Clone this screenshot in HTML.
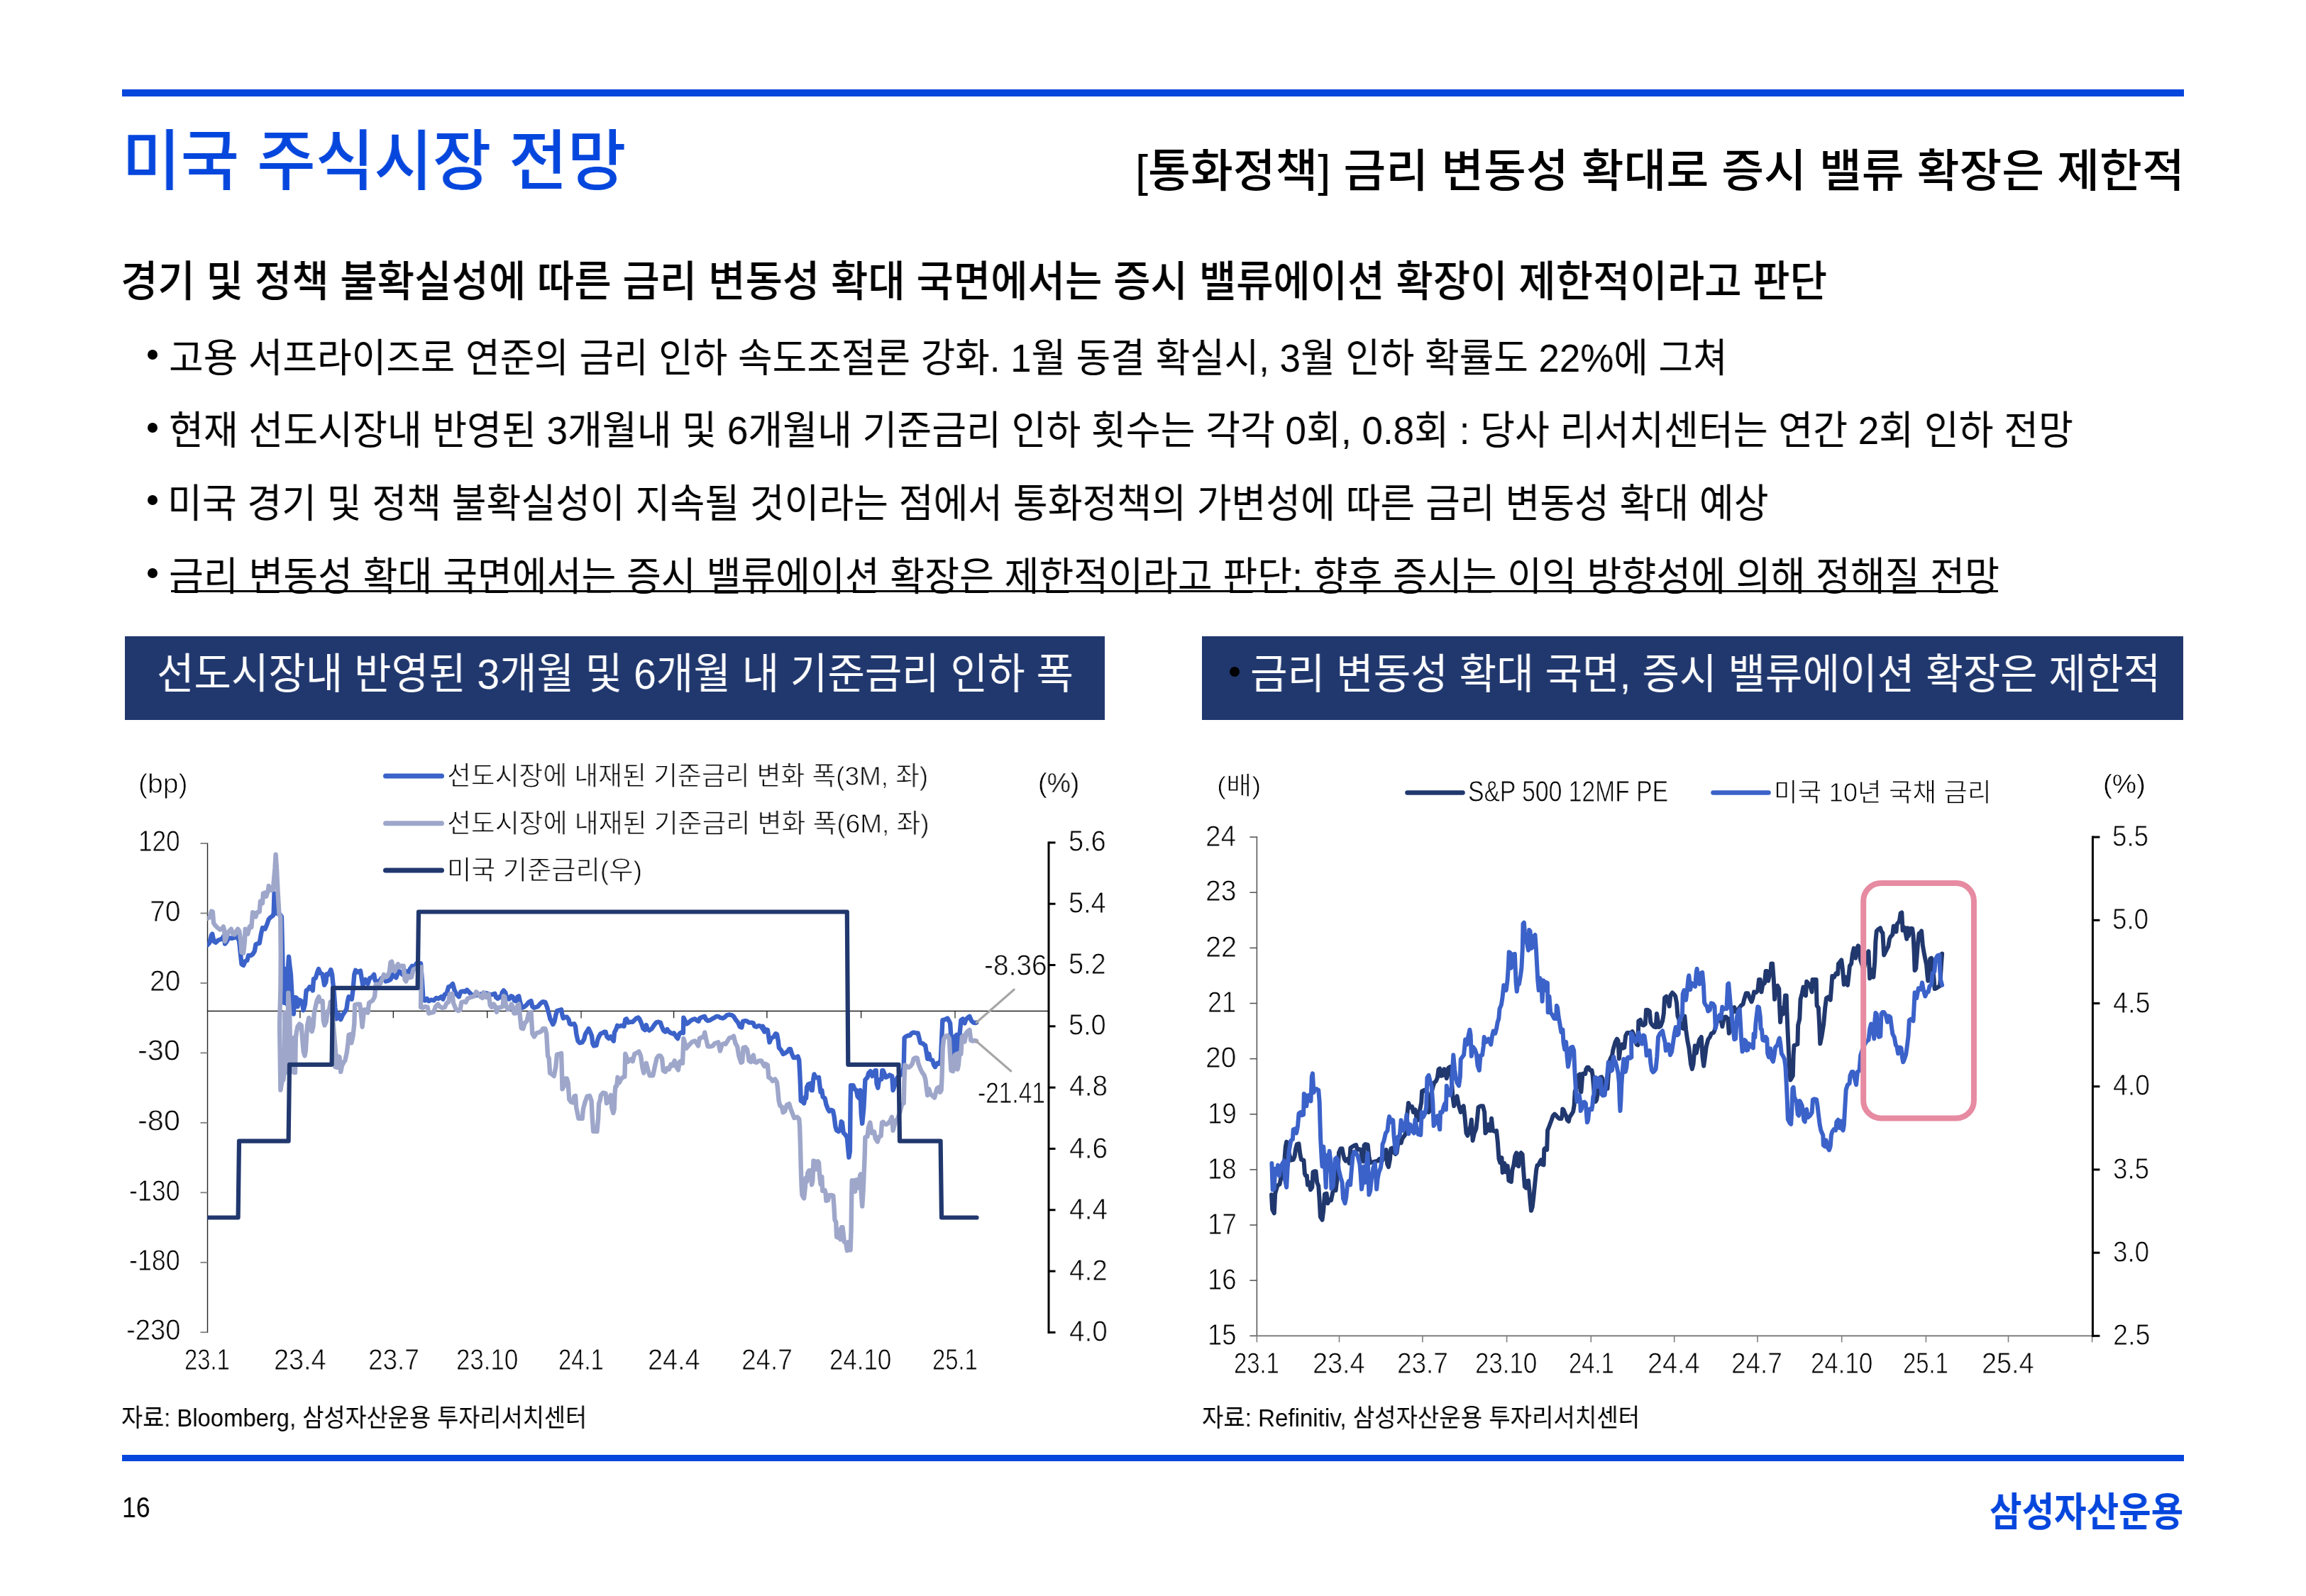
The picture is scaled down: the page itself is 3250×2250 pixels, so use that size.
<!DOCTYPE html>
<html lang="ko"><head><meta charset="utf-8"><title>미국 주식시장 전망</title>
<style>
html,body{margin:0;padding:0;background:#fff}
body{width:3250px;height:2250px;position:relative;overflow:hidden;font-family:'Liberation Sans', 'Noto Sans CJK KR', sans-serif}
.t{position:absolute;white-space:pre;line-height:1;transform-origin:0 0;will-change:transform;font-family:'Liberation Sans', 'Noto Sans CJK KR', sans-serif}
.r{position:absolute}
svg{position:absolute;left:0;top:0}
</style></head><body>
<svg width="3250" height="2250" viewBox="0 0 3250 2250" fill="none">
<defs><clipPath id="cl"><rect x="292.2" y="1150" width="1200" height="760"/></clipPath></defs>
<line x1="292.5" y1="1188.2" x2="292.5" y2="1879.0" stroke="#262626" stroke-width="1.4" stroke-linecap="butt"/>
<line x1="282.5" y1="1189.0" x2="292.5" y2="1189.0" stroke="#7f7f7f" stroke-width="1.8" stroke-linecap="butt"/>
<line x1="282.5" y1="1287.46" x2="292.5" y2="1287.46" stroke="#7f7f7f" stroke-width="1.8" stroke-linecap="butt"/>
<line x1="282.5" y1="1385.92" x2="292.5" y2="1385.92" stroke="#7f7f7f" stroke-width="1.8" stroke-linecap="butt"/>
<line x1="282.5" y1="1484.38" x2="292.5" y2="1484.38" stroke="#7f7f7f" stroke-width="1.8" stroke-linecap="butt"/>
<line x1="282.5" y1="1582.84" x2="292.5" y2="1582.84" stroke="#7f7f7f" stroke-width="1.8" stroke-linecap="butt"/>
<line x1="282.5" y1="1681.3" x2="292.5" y2="1681.3" stroke="#7f7f7f" stroke-width="1.8" stroke-linecap="butt"/>
<line x1="282.5" y1="1779.76" x2="292.5" y2="1779.76" stroke="#7f7f7f" stroke-width="1.8" stroke-linecap="butt"/>
<line x1="282.5" y1="1878.2199999999998" x2="292.5" y2="1878.2199999999998" stroke="#7f7f7f" stroke-width="1.8" stroke-linecap="butt"/>
<line x1="292.5" y1="1425.3" x2="1478.0" y2="1425.3" stroke="#000" stroke-width="1.3" stroke-linecap="butt"/>
<line x1="422.9" y1="1425.3" x2="422.9" y2="1435.3" stroke="#1a1a1a" stroke-width="1.3" stroke-linecap="butt"/>
<line x1="554.3" y1="1425.3" x2="554.3" y2="1435.3" stroke="#1a1a1a" stroke-width="1.3" stroke-linecap="butt"/>
<line x1="686.7" y1="1425.3" x2="686.7" y2="1435.3" stroke="#1a1a1a" stroke-width="1.3" stroke-linecap="butt"/>
<line x1="819.1" y1="1425.8999999999999" x2="819.1" y2="1435.5" stroke="#707070" stroke-width="1.9" stroke-linecap="butt"/>
<line x1="949.6" y1="1425.3" x2="949.6" y2="1435.3" stroke="#1a1a1a" stroke-width="1.3" stroke-linecap="butt"/>
<line x1="1080.9" y1="1425.3" x2="1080.9" y2="1435.3" stroke="#1a1a1a" stroke-width="1.3" stroke-linecap="butt"/>
<line x1="1213.6" y1="1425.3" x2="1213.6" y2="1435.3" stroke="#1a1a1a" stroke-width="1.3" stroke-linecap="butt"/>
<line x1="1346.0" y1="1425.8999999999999" x2="1346.0" y2="1435.5" stroke="#707070" stroke-width="1.9" stroke-linecap="butt"/>
<line x1="1478.0" y1="1186.4" x2="1478.0" y2="1879.9" stroke="#000" stroke-width="3" stroke-linecap="butt"/>
<line x1="1478.0" y1="1187.9" x2="1487.5" y2="1187.9" stroke="#000" stroke-width="3" stroke-linecap="butt"/>
<line x1="1478.0" y1="1274.21" x2="1487.5" y2="1274.21" stroke="#000" stroke-width="3" stroke-linecap="butt"/>
<line x1="1478.0" y1="1360.52" x2="1487.5" y2="1360.52" stroke="#000" stroke-width="3" stroke-linecap="butt"/>
<line x1="1478.0" y1="1446.8300000000002" x2="1487.5" y2="1446.8300000000002" stroke="#000" stroke-width="3" stroke-linecap="butt"/>
<line x1="1478.0" y1="1533.14" x2="1487.5" y2="1533.14" stroke="#000" stroke-width="3" stroke-linecap="butt"/>
<line x1="1478.0" y1="1619.45" x2="1487.5" y2="1619.45" stroke="#000" stroke-width="3" stroke-linecap="butt"/>
<line x1="1478.0" y1="1705.7600000000002" x2="1487.5" y2="1705.7600000000002" stroke="#000" stroke-width="3" stroke-linecap="butt"/>
<line x1="1478.0" y1="1792.0700000000002" x2="1487.5" y2="1792.0700000000002" stroke="#000" stroke-width="3" stroke-linecap="butt"/>
<line x1="1478.0" y1="1878.38" x2="1487.5" y2="1878.38" stroke="#000" stroke-width="3" stroke-linecap="butt"/>
<line x1="543.5" y1="1094" x2="622.5" y2="1094" stroke="#3b62c9" stroke-width="7" stroke-linecap="round"/>
<line x1="543.5" y1="1160.7" x2="622.5" y2="1160.7" stroke="#9ea7ca" stroke-width="7" stroke-linecap="round"/>
<line x1="543.5" y1="1227" x2="622.5" y2="1227" stroke="#21386e" stroke-width="7" stroke-linecap="round"/>
<polyline points="292.3,1332.3 295.4,1328.8 298.0,1318.4 299.2,1316.7 301.5,1327.1 304.1,1328.8 307.6,1325.4 312.8,1323.6 315.4,1319.3 317.1,1330.6 319.7,1327.1 322.3,1321.9 326.6,1322.8 330.5,1321.9 334.5,1320.2 337.1,1327.1 339.1,1346.2 340.5,1359.2 343.1,1360.9 345.7,1354.9 348.3,1354.0 350.1,1347.0 353.5,1347.0 356.1,1345.3 358.8,1341.0 360.5,1331.4 362.2,1330.6 365.7,1329.7 368.3,1314.9 370.0,1308.0 373.5,1309.7 376.1,1303.7 378.7,1295.9 381.3,1293.3 384.8,1290.7 385.7,1287.2 386.5,1259.4 388.3,1287.2 394.3,1288.9 396.9,1292.4 398.1,1342.7 399.2,1406.9 399.9,1365.3 400.9,1413.9 402.0,1370.5 403.0,1368.7 404.4,1415.6 406.0,1363.5 407.0,1348.8 408.6,1363.5 409.9,1373.9 411.3,1400.0 412.5,1420.8 413.8,1429.5 415.2,1408.7 416.4,1406.1 417.8,1406.9 419.5,1419.1 421.2,1409.5 423.8,1410.4 425.9,1413.9 427.6,1424.3 429.9,1415.6 431.6,1396.5 434.2,1394.8 436.3,1391.3 438.6,1392.2 440.8,1396.5 442.0,1380.0 444.7,1379.2 447.3,1370.5 449.0,1366.1 451.6,1372.2 454.2,1373.1 455.9,1380.9 457.1,1388.7 459.4,1384.4 460.6,1373.1 462.9,1373.9 466.3,1367.0 468.1,1373.9 469.3,1386.1 470.7,1398.2 472.4,1420.8 474.2,1436.4 475.9,1432.1 477.6,1429.5 480.2,1437.3 482.8,1431.2 486.3,1426.0 488.4,1422.5 489.8,1412.1 491.5,1405.2 494.1,1406.9 495.8,1408.7 497.6,1394.8 499.3,1373.9 501.1,1367.9 504.0,1370.5 508.0,1368.7 509.7,1379.2 511.5,1389.6 513.2,1382.6 514.9,1380.9 518.4,1387.0 521.0,1379.2 524.5,1377.4 527.1,1373.9 528.8,1382.6 530.6,1384.4 534.9,1382.6 537.5,1379.2 541.0,1377.4 543.6,1383.5 547.0,1382.6 550.5,1380.9 553.1,1373.9 555.7,1376.6 558.3,1378.3 561.8,1368.7 564.4,1370.5 567.0,1373.9 571.3,1368.7 574.8,1372.2 578.3,1365.3 580.9,1361.8 583.5,1363.5 587.0,1358.3 590.4,1359.2 593.0,1358.3 594.8,1380.9 596.5,1409.5 599.1,1410.4 601.7,1407.8 604.3,1411.3 607.8,1409.5 611.2,1410.4 614.7,1406.9 618.2,1407.8 621.7,1405.2 624.3,1408.7 626.9,1401.7 629.5,1400.8 632.1,1391.3 634.7,1390.4 638.1,1387.0 640.7,1396.5 643.4,1401.7 646.8,1405.2 649.4,1398.2 652.9,1397.4 655.5,1398.2 658.1,1395.6 660.7,1398.2 664.2,1401.7 666.8,1403.4 670.2,1403.4 675.5,1402.1 680.7,1400.7 685.0,1400.0 684.3,1401.6 687.8,1400.8 691.3,1402.5 694.8,1401.6 697.4,1400.8 699.1,1406.0 701.7,1407.7 704.3,1405.1 706.0,1406.0 707.8,1399.0 709.8,1396.4 712.1,1399.0 714.7,1407.7 717.3,1408.6 720.3,1404.3 722.5,1405.1 724.8,1410.3 726.9,1411.2 729.5,1405.1 731.2,1404.3 732.9,1412.1 735.5,1420.7 738.1,1419.9 741.6,1417.3 745.1,1412.9 748.5,1411.2 750.3,1419.0 752.9,1420.7 758.1,1419.0 761.6,1414.7 765.0,1412.1 768.5,1412.9 771.1,1419.9 773.7,1429.4 775.4,1436.4 777.2,1439.8 779.3,1444.2 781.5,1439.8 783.3,1431.1 785.0,1425.1 788.5,1424.2 791.1,1423.3 792.5,1431.1 793.7,1435.5 796.3,1433.8 798.9,1433.8 801.5,1437.2 802.9,1443.3 804.9,1444.2 809.3,1443.3 811.0,1446.8 812.2,1457.2 814.5,1467.6 817.1,1470.2 820.6,1469.3 823.2,1465.0 824.9,1458.0 827.5,1453.7 829.6,1450.2 831.8,1454.6 834.1,1460.7 835.3,1471.1 837.0,1474.5 840.5,1473.7 842.3,1465.9 844.0,1461.5 846.6,1457.2 849.2,1456.3 851.8,1454.6 853.5,1454.6 855.3,1461.5 857.9,1464.1 860.5,1461.5 862.2,1464.1 864.8,1467.6 866.0,1455.4 868.3,1451.1 870.0,1445.9 872.6,1446.8 876.1,1445.9 879.6,1446.8 881.3,1437.2 883.0,1436.4 885.6,1441.6 888.2,1440.7 891.7,1440.7 894.3,1438.1 896.9,1435.5 899.5,1434.6 901.3,1436.4 903.9,1442.4 906.5,1450.2 909.1,1452.0 910.8,1445.0 912.5,1450.2 915.1,1452.8 918.6,1450.2 922.1,1445.0 924.7,1441.6 927.3,1440.7 930.8,1441.6 932.5,1446.8 935.1,1452.8 937.7,1454.6 940.3,1451.1 942.9,1454.6 945.5,1456.3 948.1,1457.2 949.8,1456.3 952.5,1460.7 955.1,1464.1 957.7,1457.2 960.3,1455.4 962.9,1456.3 963.4,1434.6 965.5,1439.0 968.1,1443.3 970.7,1441.6 973.3,1439.0 976.7,1437.2 979.3,1436.4 982.8,1439.0 984.6,1439.8 986.3,1435.5 989.8,1433.8 993.2,1432.9 995.0,1437.2 997.6,1439.0 1001.0,1438.1 1003.6,1436.4 1007.1,1434.6 1009.7,1432.9 1012.3,1432.9 1014.9,1434.6 1018.4,1435.5 1021.9,1433.8 1024.5,1431.1 1027.9,1430.3 1031.4,1431.1 1034.0,1432.9 1036.6,1437.2 1040.1,1441.6 1042.7,1447.6 1045.3,1448.5 1047.0,1439.8 1050.5,1439.0 1053.1,1439.8 1055.7,1441.6 1059.2,1441.6 1061.8,1442.4 1063.5,1446.8 1066.1,1447.6 1069.6,1445.9 1072.2,1446.8 1074.8,1450.2 1077.4,1454.6 1075.0,1446.8 1077.6,1451.1 1081.9,1452.0 1083.3,1461.6 1084.5,1469.4 1087.1,1463.3 1090.6,1461.6 1093.2,1457.2 1095.0,1458.1 1096.7,1466.8 1097.9,1477.2 1101.0,1480.7 1103.6,1485.9 1106.2,1485.0 1109.7,1482.4 1112.3,1478.9 1114.0,1478.9 1115.8,1485.0 1118.4,1491.1 1121.0,1491.1 1124.5,1489.3 1126.2,1494.5 1127.1,1510.2 1127.9,1527.5 1128.8,1551.8 1131.4,1553.5 1133.1,1555.3 1134.9,1546.6 1136.1,1548.3 1137.1,1532.7 1139.2,1528.4 1141.8,1527.5 1143.5,1537.0 1144.8,1537.0 1146.1,1522.3 1147.5,1514.5 1149.6,1518.8 1152.2,1519.7 1154.0,1518.8 1155.2,1529.2 1156.6,1539.7 1158.3,1537.0 1159.7,1546.6 1162.6,1548.3 1164.4,1557.0 1167.0,1563.9 1168.7,1566.6 1171.3,1564.8 1173.9,1565.7 1175.7,1574.4 1177.4,1588.2 1179.1,1593.4 1181.7,1595.2 1184.3,1592.6 1185.7,1581.3 1186.9,1582.2 1188.7,1596.9 1191.3,1599.5 1193.9,1603.9 1195.1,1617.7 1196.5,1631.6 1197.9,1623.0 1198.6,1553.5 1199.1,1530.1 1202.5,1530.1 1204.3,1535.3 1206.9,1537.0 1208.6,1545.7 1210.7,1548.3 1212.4,1537.0 1213.8,1570.9 1215.2,1583.9 1217.3,1562.2 1218.7,1536.2 1219.4,1522.3 1222.5,1518.8 1224.2,1512.8 1226.8,1510.2 1229.4,1517.1 1231.2,1512.8 1233.3,1509.3 1234.7,1509.3 1235.5,1527.5 1237.3,1533.6 1239.0,1522.3 1242.5,1521.4 1243.3,1509.3 1244.7,1509.3 1246.8,1514.5 1248.5,1518.8 1252.0,1517.1 1253.7,1515.4 1257.2,1517.1 1258.6,1537.0 1260.7,1531.0 1262.4,1524.0 1265.0,1518.8 1266.8,1517.1 1269.4,1515.4 1272.0,1511.9 1273.7,1504.9 1274.6,1463.3 1276.3,1461.6 1279.8,1459.8 1282.4,1459.8 1285.0,1456.4 1287.6,1455.5 1291.1,1456.4 1293.7,1456.4 1295.4,1463.3 1297.1,1470.2 1300.6,1471.1 1302.3,1472.8 1304.1,1473.7 1305.8,1484.1 1307.2,1492.8 1309.3,1485.9 1311.0,1493.7 1314.1,1494.5 1316.2,1501.5 1318.0,1504.1 1320.6,1498.9 1323.2,1499.7 1325.8,1494.5 1326.6,1477.2 1328.4,1438.1 1331.8,1437.3 1335.3,1435.5 1337.9,1439.9 1339.1,1442.5 1340.5,1463.3 1342.2,1484.1 1344.0,1501.5 1345.4,1461.6 1348.3,1459.0 1349.5,1479.8 1350.9,1477.2 1352.7,1456.4 1354.4,1438.1 1357.0,1436.4 1359.6,1442.5 1361.3,1437.3 1363.9,1434.7 1366.5,1432.9 1369.1,1439.0 1371.7,1441.6 1374.3,1442.1 1376.1,1441.6" stroke="#3b62c9" stroke-width="6.4" stroke-linejoin="round" stroke-linecap="round" clip-path="url(#cl)"/>
<polyline points="292.3,1295.0 295.4,1293.3 298.0,1284.6 299.8,1285.4 301.0,1301.1 303.2,1304.5 306.7,1308.0 310.2,1310.6 312.8,1309.7 314.8,1306.3 316.2,1311.5 317.1,1327.1 318.8,1321.9 321.4,1314.9 324.0,1311.5 325.8,1309.7 328.0,1316.7 330.5,1317.5 332.7,1313.2 335.3,1309.7 337.1,1312.3 339.1,1323.6 340.5,1342.7 343.1,1343.6 344.9,1327.1 345.7,1309.7 347.5,1314.9 349.2,1316.7 351.8,1306.3 354.4,1307.1 356.1,1286.3 358.8,1287.2 360.5,1292.4 362.2,1286.3 365.7,1285.4 366.9,1270.7 370.0,1273.3 370.9,1259.4 373.5,1258.5 375.2,1263.8 377.8,1255.9 378.7,1249.0 381.3,1255.1 384.8,1254.2 387.4,1224.7 388.6,1204.8 390.0,1224.7 391.7,1259.4 393.5,1288.9 395.2,1292.4 395.7,1346.2 395.4,1392.8 394.0,1445.4 395.4,1536.7 397.5,1524.4 399.3,1522.6 400.7,1512.1 401.4,1427.9 402.8,1512.1 404.6,1510.4 406.3,1399.8 408.1,1427.9 409.8,1510.4 412.5,1511.2 414.2,1463.0 415.1,1512.1 416.0,1512.1 416.8,1463.0 417.7,1456.0 419.5,1447.2 422.1,1443.7 424.7,1445.4 426.0,1463.0 427.7,1482.3 429.5,1488.4 430.9,1480.5 432.1,1459.5 433.2,1445.4 435.3,1434.9 436.5,1438.4 437.9,1450.7 439.6,1454.2 441.4,1447.2 442.8,1427.9 444.0,1422.6 446.7,1410.4 449.3,1405.1 451.1,1412.1 454.6,1411.2 455.8,1438.4 457.5,1445.4 459.8,1440.2 461.6,1426.1 464.2,1422.6 466.0,1412.1 465.5,1413.0 468.9,1434.7 471.6,1465.9 473.3,1486.8 472.4,1504.1 475.0,1505.0 476.8,1489.4 478.5,1490.2 480.2,1511.1 482.0,1502.4 484.6,1497.2 486.3,1495.4 488.9,1483.3 490.6,1469.4 491.5,1459.0 494.1,1458.1 495.3,1470.3 497.6,1459.9 499.3,1443.4 500.2,1416.5 503.7,1415.6 507.1,1415.6 508.9,1429.5 510.6,1447.7 513.2,1423.4 516.7,1423.4 518.4,1427.7 520.1,1413.9 522.7,1412.1 525.3,1410.4 528.0,1405.2 529.7,1387.8 532.3,1387.8 535.8,1387.0 538.4,1380.9 541.0,1373.9 543.6,1377.4 546.2,1375.7 548.8,1370.5 550.5,1356.6 552.2,1355.7 554.0,1367.0 556.6,1368.7 559.2,1361.8 560.9,1359.2 562.7,1363.5 565.3,1361.8 568.7,1361.8 570.5,1380.9 572.2,1383.5 574.8,1375.7 577.4,1378.3 580.0,1377.4 582.6,1367.0 586.1,1365.3 590.4,1363.5 593.9,1363.5 593.0,1419.9 595.6,1420.8 599.1,1419.1 602.6,1419.9 604.3,1428.6 607.8,1427.7 611.2,1426.9 613.9,1419.1 617.3,1415.6 619.9,1419.1 623.4,1420.8 626.9,1419.9 629.5,1413.9 632.1,1413.0 633.8,1401.7 637.3,1400.8 639.0,1413.9 642.5,1422.5 646.0,1425.1 648.6,1423.4 650.3,1413.0 653.8,1412.1 656.4,1413.0 659.0,1407.8 662.4,1406.1 665.9,1405.2 668.5,1404.3 671.1,1398.2 673.7,1400.8 677.2,1405.2 679.8,1406.9 681.5,1399.1 684.1,1403.4 682.6,1399.9 685.2,1406.0 688.7,1401.6 690.8,1417.3 693.0,1419.9 695.6,1415.5 698.2,1419.0 700.0,1426.8 702.6,1420.7 706.0,1419.9 708.6,1419.0 709.8,1404.3 711.2,1405.1 713.0,1417.3 715.6,1423.3 718.2,1422.5 720.8,1415.5 722.5,1419.0 724.3,1428.5 726.9,1428.5 729.5,1417.3 731.2,1415.5 732.9,1432.9 734.7,1449.4 737.3,1450.2 739.9,1441.6 742.5,1439.8 745.1,1428.5 748.5,1426.8 750.3,1457.2 752.9,1461.5 756.4,1456.3 759.8,1455.4 763.3,1453.7 765.0,1450.2 768.5,1450.2 770.2,1457.2 772.0,1488.4 773.7,1491.9 775.1,1512.7 778.0,1514.4 780.7,1517.0 783.3,1504.0 785.0,1486.7 788.5,1485.8 791.1,1484.9 791.9,1511.0 792.5,1535.3 794.5,1531.8 796.6,1520.5 798.9,1520.5 800.6,1526.6 802.3,1550.0 804.9,1553.5 807.5,1554.4 809.3,1545.7 811.0,1544.8 812.2,1561.3 815.4,1576.9 818.0,1576.9 820.6,1576.9 822.0,1563.0 824.9,1552.6 827.5,1545.7 831.0,1544.8 833.6,1551.8 834.8,1576.1 836.2,1595.1 841.4,1595.1 843.1,1576.9 844.0,1556.1 845.7,1550.9 846.9,1543.9 850.1,1540.5 853.5,1541.3 854.9,1555.2 857.0,1553.5 858.7,1548.3 860.8,1543.9 862.2,1561.3 864.3,1569.1 865.7,1563.9 866.6,1540.5 867.4,1531.8 869.2,1530.9 870.5,1518.8 872.6,1526.6 875.2,1521.4 877.8,1518.8 880.4,1517.9 881.3,1485.8 883.0,1490.2 884.8,1497.1 887.4,1494.5 890.0,1492.8 891.7,1496.2 894.3,1485.8 897.8,1484.1 900.4,1482.3 903.0,1488.4 905.6,1505.8 907.3,1512.7 909.1,1502.3 910.8,1498.8 913.4,1509.2 915.7,1516.2 920.3,1516.2 923.0,1503.2 925.6,1491.9 928.2,1488.4 930.8,1488.4 933.0,1491.9 934.8,1509.2 937.7,1511.0 940.3,1505.8 942.9,1507.5 945.5,1500.6 948.1,1502.3 950.7,1495.4 953.3,1504.0 955.9,1508.4 957.7,1497.1 960.3,1495.4 962.0,1498.8 963.4,1464.1 965.5,1471.1 967.2,1478.0 970.7,1473.7 973.3,1471.1 975.9,1468.5 979.3,1467.6 982.0,1471.1 984.0,1474.5 985.8,1464.1 988.9,1462.4 991.5,1462.4 993.2,1455.4 995.0,1464.1 997.6,1475.4 1001.0,1475.4 1004.5,1474.5 1007.1,1471.1 1009.7,1470.2 1012.3,1469.3 1014.9,1481.5 1017.5,1472.8 1020.1,1471.1 1022.7,1471.9 1025.3,1467.6 1027.9,1463.3 1031.4,1462.4 1034.0,1460.7 1036.6,1471.1 1039.2,1475.4 1041.3,1488.4 1044.4,1498.0 1046.2,1497.1 1047.5,1477.1 1050.5,1476.3 1053.1,1479.7 1055.7,1495.4 1058.3,1497.1 1060.0,1490.2 1061.8,1487.5 1063.5,1497.1 1066.1,1498.0 1069.6,1495.4 1073.1,1495.4 1075.7,1500.6 1077.4,1503.2 1078.5,1499.7 1081.9,1501.5 1083.3,1518.8 1086.3,1520.6 1088.9,1524.0 1092.4,1521.4 1095.0,1525.8 1096.2,1536.2 1097.6,1551.8 1099.3,1558.7 1101.9,1560.5 1103.6,1568.3 1106.2,1566.6 1108.8,1557.9 1112.3,1556.1 1114.0,1562.2 1116.6,1569.2 1119.3,1576.1 1123.6,1574.8 1126.2,1577.4 1127.1,1587.8 1127.9,1612.1 1128.8,1646.8 1129.7,1672.8 1130.5,1684.9 1133.1,1689.3 1134.9,1672.8 1135.7,1660.7 1137.1,1665.9 1138.3,1653.7 1140.1,1650.2 1142.7,1650.2 1144.1,1670.2 1145.3,1664.1 1146.5,1636.4 1148.8,1637.2 1150.5,1648.5 1152.7,1637.2 1154.0,1639.0 1155.2,1657.2 1156.6,1669.3 1158.3,1658.9 1159.2,1678.9 1162.6,1678.0 1163.5,1681.5 1164.4,1692.8 1167.0,1691.9 1168.7,1684.9 1172.2,1684.9 1174.3,1685.8 1175.3,1698.8 1176.5,1719.7 1178.3,1723.1 1179.1,1743.9 1181.7,1744.8 1183.5,1733.5 1184.7,1747.4 1186.1,1730.1 1187.5,1730.1 1188.7,1740.5 1189.9,1750.9 1192.1,1751.8 1193.9,1763.0 1195.6,1750.9 1196.5,1762.2 1198.6,1762.2 1199.6,1733.5 1200.3,1681.5 1200.8,1664.1 1203.4,1664.1 1205.2,1679.7 1207.2,1663.3 1209.0,1664.1 1210.4,1674.5 1212.1,1657.2 1213.0,1655.4 1213.8,1681.5 1215.2,1700.6 1216.4,1681.5 1217.6,1655.4 1218.7,1629.4 1219.4,1603.4 1222.5,1602.5 1223.9,1589.5 1226.3,1582.6 1228.6,1597.3 1230.3,1597.3 1232.0,1595.6 1233.8,1605.1 1236.7,1609.5 1239.0,1602.5 1241.6,1601.6 1243.0,1582.6 1244.7,1581.7 1246.8,1584.3 1249.4,1585.2 1252.0,1583.4 1254.6,1580.0 1256.9,1574.8 1258.6,1593.8 1260.3,1586.9 1262.4,1580.0 1265.0,1577.4 1268.5,1567.4 1271.1,1557.0 1273.7,1555.3 1274.6,1518.8 1275.4,1501.5 1278.0,1503.2 1280.6,1504.9 1283.2,1503.2 1285.8,1499.7 1287.6,1492.8 1290.2,1491.1 1292.8,1491.9 1294.5,1499.7 1297.1,1506.7 1299.7,1511.9 1302.7,1516.2 1304.4,1522.3 1305.8,1534.4 1307.2,1544.0 1309.3,1535.3 1311.4,1542.3 1314.1,1544.9 1317.1,1547.5 1318.8,1540.5 1320.6,1534.4 1323.2,1532.7 1324.9,1539.7 1326.6,1537.0 1327.5,1518.8 1328.7,1477.2 1330.1,1465.0 1332.7,1460.7 1335.3,1459.8 1337.9,1464.2 1339.1,1487.6 1340.5,1509.3 1343.1,1510.2 1344.8,1504.1 1345.7,1487.6 1348.3,1485.9 1349.5,1507.5 1350.9,1501.5 1352.3,1484.1 1354.4,1485.9 1355.8,1461.6 1357.9,1459.8 1359.6,1468.5 1361.7,1456.4 1363.9,1453.8 1366.5,1452.0 1368.3,1466.8 1370.9,1467.6 1373.5,1466.8 1376.1,1467.6" stroke="#9ea7ca" stroke-width="6.4" stroke-linejoin="round" stroke-linecap="round" clip-path="url(#cl)"/>
<polyline points="292.5,1716.5 335.6,1716.5 337.0,1608.7 406.6,1608.7 408.0,1500.8 467.6,1500.8 469.0,1392.9 588.6,1392.9 590.0,1285.5 1193.8,1285.5 1195.3,1500.8 1266.5,1500.8 1268.0,1608.7 1325.6,1608.7 1327.0,1716.5 1376.5,1716.5" stroke="#21386e" stroke-width="6.2" stroke-linejoin="round" stroke-linecap="round" clip-path="url(#cl)"/>
<line x1="1376.2" y1="1441.5" x2="1429.3" y2="1395.0" stroke="#a6a6a6" stroke-width="3" stroke-linecap="round"/>
<line x1="1375.0" y1="1467.0" x2="1424.8" y2="1510.0" stroke="#a6a6a6" stroke-width="3" stroke-linecap="round"/>
<line x1="1771.4" y1="1179.3" x2="1771.4" y2="1883.3" stroke="#595959" stroke-width="1.6" stroke-linecap="butt"/>
<line x1="1761.4" y1="1180.1" x2="1771.4" y2="1180.1" stroke="#595959" stroke-width="1.6" stroke-linecap="butt"/>
<line x1="1761.4" y1="1258.23" x2="1771.4" y2="1258.23" stroke="#595959" stroke-width="1.6" stroke-linecap="butt"/>
<line x1="1761.4" y1="1336.36" x2="1771.4" y2="1336.36" stroke="#595959" stroke-width="1.6" stroke-linecap="butt"/>
<line x1="1761.4" y1="1414.4899999999998" x2="1771.4" y2="1414.4899999999998" stroke="#595959" stroke-width="1.6" stroke-linecap="butt"/>
<line x1="1761.4" y1="1492.62" x2="1771.4" y2="1492.62" stroke="#595959" stroke-width="1.6" stroke-linecap="butt"/>
<line x1="1761.4" y1="1570.75" x2="1771.4" y2="1570.75" stroke="#595959" stroke-width="1.6" stroke-linecap="butt"/>
<line x1="1761.4" y1="1648.8799999999999" x2="1771.4" y2="1648.8799999999999" stroke="#595959" stroke-width="1.6" stroke-linecap="butt"/>
<line x1="1761.4" y1="1727.0099999999998" x2="1771.4" y2="1727.0099999999998" stroke="#595959" stroke-width="1.6" stroke-linecap="butt"/>
<line x1="1761.4" y1="1805.1399999999999" x2="1771.4" y2="1805.1399999999999" stroke="#595959" stroke-width="1.6" stroke-linecap="butt"/>
<line x1="1761.4" y1="1883.27" x2="1771.4" y2="1883.27" stroke="#595959" stroke-width="1.6" stroke-linecap="butt"/>
<line x1="1770.6000000000001" y1="1883.3" x2="2949.4" y2="1883.3" stroke="#7f7f7f" stroke-width="2" stroke-linecap="butt"/>
<line x1="1771.4" y1="1883.3" x2="1771.4" y2="1892.3" stroke="#7f7f7f" stroke-width="1.6" stroke-linecap="butt"/>
<line x1="1887.5" y1="1883.3" x2="1887.5" y2="1892.3" stroke="#7f7f7f" stroke-width="1.6" stroke-linecap="butt"/>
<line x1="2004.9" y1="1883.3" x2="2004.9" y2="1892.3" stroke="#7f7f7f" stroke-width="1.6" stroke-linecap="butt"/>
<line x1="2123.6" y1="1883.3" x2="2123.6" y2="1892.3" stroke="#7f7f7f" stroke-width="1.6" stroke-linecap="butt"/>
<line x1="2242.3" y1="1883.3" x2="2242.3" y2="1892.3" stroke="#7f7f7f" stroke-width="1.6" stroke-linecap="butt"/>
<line x1="2359.7" y1="1883.3" x2="2359.7" y2="1892.3" stroke="#7f7f7f" stroke-width="1.6" stroke-linecap="butt"/>
<line x1="2477.0" y1="1883.3" x2="2477.0" y2="1892.3" stroke="#7f7f7f" stroke-width="1.6" stroke-linecap="butt"/>
<line x1="2595.7" y1="1883.3" x2="2595.7" y2="1892.3" stroke="#7f7f7f" stroke-width="1.6" stroke-linecap="butt"/>
<line x1="2714.4" y1="1883.3" x2="2714.4" y2="1892.3" stroke="#7f7f7f" stroke-width="1.6" stroke-linecap="butt"/>
<line x1="2830.5" y1="1883.3" x2="2830.5" y2="1892.3" stroke="#7f7f7f" stroke-width="1.6" stroke-linecap="butt"/>
<line x1="2948.6" y1="1883.3" x2="2948.6" y2="1892.3" stroke="#7f7f7f" stroke-width="1.6" stroke-linecap="butt"/>
<line x1="2949.4" y1="1178.6" x2="2949.4" y2="1884.8" stroke="#000" stroke-width="3" stroke-linecap="butt"/>
<line x1="2949.4" y1="1180.1" x2="2959.4" y2="1180.1" stroke="#000" stroke-width="3" stroke-linecap="butt"/>
<line x1="2949.4" y1="1297.3" x2="2959.4" y2="1297.3" stroke="#000" stroke-width="3" stroke-linecap="butt"/>
<line x1="2949.4" y1="1414.5" x2="2959.4" y2="1414.5" stroke="#000" stroke-width="3" stroke-linecap="butt"/>
<line x1="2949.4" y1="1531.6999999999998" x2="2959.4" y2="1531.6999999999998" stroke="#000" stroke-width="3" stroke-linecap="butt"/>
<line x1="2949.4" y1="1648.8999999999999" x2="2959.4" y2="1648.8999999999999" stroke="#000" stroke-width="3" stroke-linecap="butt"/>
<line x1="2949.4" y1="1766.1" x2="2959.4" y2="1766.1" stroke="#000" stroke-width="3" stroke-linecap="butt"/>
<line x1="2949.4" y1="1883.3" x2="2959.4" y2="1883.3" stroke="#000" stroke-width="3" stroke-linecap="butt"/>
<line x1="1983.5" y1="1117.5" x2="2061.5" y2="1117.5" stroke="#21386e" stroke-width="6.5" stroke-linecap="round"/>
<line x1="2414.5" y1="1117.5" x2="2492.5" y2="1117.5" stroke="#3b62c9" stroke-width="6.5" stroke-linecap="round"/>
<polyline points="1792.0,1684.3 1793.2,1705.1 1795.8,1710.3 1797.2,1682.5 1800.2,1672.1 1801.9,1670.4 1803.6,1669.5 1805.4,1660.0 1807.1,1660.8 1808.8,1649.6 1810.6,1632.2 1811.8,1616.6 1813.2,1609.7 1815.3,1613.1 1816.6,1625.3 1819.3,1635.7 1822.7,1634.8 1824.5,1630.5 1826.2,1619.2 1827.9,1613.1 1830.5,1612.3 1832.3,1627.0 1834.0,1634.8 1837.5,1635.7 1838.9,1654.8 1840.1,1657.4 1841.8,1657.4 1843.0,1670.4 1845.3,1666.9 1847.0,1677.3 1849.3,1673.9 1850.5,1652.2 1852.7,1651.3 1854.5,1651.3 1856.2,1666.9 1858.3,1672.1 1859.7,1693.0 1860.9,1715.5 1863.5,1719.8 1865.2,1706.8 1867.0,1683.4 1869.6,1682.5 1871.3,1696.4 1873.9,1691.2 1876.0,1692.1 1878.3,1680.8 1880.0,1677.3 1882.6,1678.2 1884.3,1663.4 1886.1,1640.9 1886.9,1625.3 1889.5,1619.2 1891.6,1619.2 1893.0,1627.0 1894.7,1633.9 1896.5,1636.6 1899.1,1633.9 1901.7,1640.0 1903.4,1618.3 1906.0,1616.6 1908.6,1614.9 1911.2,1614.0 1913.0,1620.9 1915.6,1620.1 1918.2,1620.9 1919.9,1633.9 1921.6,1637.4 1922.5,1614.9 1924.2,1613.1 1927.7,1614.0 1929.4,1630.5 1931.2,1639.2 1934.7,1638.3 1938.1,1637.4 1941.6,1636.6 1944.2,1633.9 1946.8,1638.3 1949.4,1633.9 1952.0,1631.3 1953.7,1620.9 1955.1,1640.9 1956.9,1645.2 1958.9,1634.8 1960.3,1619.2 1962.4,1618.3 1964.2,1624.4 1966.8,1627.0 1968.5,1625.3 1970.2,1613.1 1972.8,1608.8 1974.6,1611.4 1976.3,1605.3 1978.9,1601.8 1980.6,1599.2 1982.4,1592.3 1983.2,1571.5 1985.0,1555.0 1987.6,1561.1 1990.2,1560.2 1991.9,1568.0 1994.5,1564.5 1996.3,1574.9 1998.0,1579.3 1999.7,1569.7 2001.5,1562.8 2003.2,1554.1 2004.1,1538.5 2007.5,1536.8 2010.1,1535.9 2011.9,1547.2 2013.6,1568.0 2015.3,1564.5 2017.1,1542.0 2019.7,1531.6 2021.4,1526.4 2024.0,1523.8 2025.8,1519.4 2027.5,1507.3 2029.2,1506.4 2031.0,1516.8 2033.6,1515.9 2035.3,1507.3 2037.0,1508.1 2038.8,1520.3 2041.4,1505.5 2044.0,1503.8 2045.7,1519.4 2047.5,1547.2 2049.2,1559.3 2051.8,1552.4 2053.5,1545.4 2056.1,1559.3 2058.7,1568.0 2060.5,1561.1 2062.7,1559.3 2064.5,1574.9 2066.5,1597.5 2068.3,1601.0 2070.9,1594.0 2072.6,1587.1 2073.8,1578.4 2075.6,1607.9 2077.8,1597.5 2080.4,1591.4 2082.2,1574.9 2083.5,1561.1 2086.5,1559.3 2090.0,1559.3 2092.2,1568.0 2093.4,1597.5 2096.0,1594.0 2097.8,1585.4 2100.4,1594.0 2102.1,1576.7 2103.9,1594.0 2106.5,1594.9 2109.1,1594.0 2110.8,1609.7 2112.5,1633.9 2114.3,1639.2 2116.5,1632.2 2117.7,1653.0 2120.3,1640.0 2122.1,1652.2 2124.7,1643.5 2126.4,1664.3 2129.9,1666.1 2131.3,1649.4 2133.3,1642.9 2135.2,1629.9 2137.2,1625.3 2138.5,1642.9 2140.2,1644.2 2141.7,1627.3 2143.7,1625.3 2145.6,1627.3 2146.9,1646.8 2148.9,1672.9 2150.9,1674.8 2152.4,1665.1 2154.1,1664.4 2155.4,1678.1 2156.7,1693.7 2158.0,1706.8 2159.7,1701.6 2161.3,1688.0 2163.2,1669.0 2165.2,1649.4 2166.5,1642.9 2168.4,1642.3 2170.4,1637.7 2172.0,1635.1 2173.7,1641.6 2175.6,1642.3 2176.3,1620.1 2177.6,1618.8 2180.2,1620.8 2181.1,1593.4 2182.8,1589.5 2184.7,1584.3 2186.7,1579.0 2188.6,1573.2 2191.0,1570.6 2193.2,1572.5 2195.2,1575.1 2197.8,1577.1 2200.4,1577.1 2201.7,1572.5 2202.3,1563.4 2203.6,1564.7 2205.6,1569.9 2207.5,1573.8 2208.8,1579.0 2210.8,1581.0 2212.1,1575.1 2214.7,1571.2 2217.1,1567.3 2218.6,1558.2 2219.7,1538.6 2221.2,1534.7 2223.2,1524.3 2224.9,1515.8 2226.4,1514.5 2227.5,1538.6 2228.4,1539.3 2229.7,1523.0 2230.4,1513.9 2232.3,1513.2 2234.3,1513.9 2235.3,1507.4 2236.9,1504.8 2238.8,1504.8 2240.8,1508.7 2243.4,1508.7 2244.7,1516.5 2246.0,1532.1 2247.3,1547.8 2248.9,1553.0 2250.2,1550.4 2251.9,1541.3 2252.8,1530.8 2253.8,1521.7 2255.1,1519.1 2257.1,1518.4 2258.4,1520.4 2259.7,1529.5 2261.6,1533.4 2265.5,1534.7 2266.6,1519.1 2268.1,1496.9 2270.1,1491.7 2272.1,1487.8 2273.4,1480.0 2274.6,1475.9 2276.6,1468.9 2278.9,1464.6 2280.6,1467.2 2281.9,1492.4 2284.1,1473.3 2285.8,1472.4 2287.6,1477.6 2289.3,1476.8 2291.1,1460.3 2293.3,1455.9 2295.4,1455.9 2298.0,1456.8 2300.6,1454.2 2302.3,1457.7 2304.1,1465.5 2306.7,1472.4 2308.4,1473.3 2309.3,1439.4 2311.9,1437.7 2314.1,1444.7 2316.2,1445.5 2318.8,1443.8 2320.0,1423.8 2322.3,1423.8 2324.9,1425.6 2326.3,1441.2 2328.4,1444.7 2331.0,1447.3 2333.6,1448.1 2335.0,1429.0 2336.2,1436.0 2337.9,1448.1 2340.5,1446.4 2343.1,1439.4 2344.8,1429.0 2346.1,1406.5 2348.3,1404.7 2350.9,1409.9 2352.7,1418.6 2354.4,1403.0 2357.0,1399.5 2359.6,1402.1 2361.3,1404.7 2363.1,1414.3 2364.5,1432.5 2366.5,1437.7 2369.1,1448.1 2372.1,1449.9 2374.3,1432.5 2376.1,1451.6 2378.3,1467.2 2380.4,1477.6 2383.0,1500.2 2384.8,1507.1 2386.5,1500.2 2388.8,1474.2 2390.8,1484.6 2392.9,1474.2 2395.2,1465.5 2397.8,1462.0 2399.5,1489.8 2401.2,1502.8 2403.0,1489.8 2404.7,1475.9 2407.3,1465.5 2409.9,1462.0 2412.0,1456.8 2415.1,1455.9 2416.9,1451.6 2419.5,1441.2 2422.9,1436.0 2425.5,1437.7 2427.3,1447.3 2429.9,1434.2 2432.5,1433.4 2435.1,1436.0 2436.8,1456.8 2438.6,1449.9 2441.7,1422.7 2444.3,1420.1 2446.1,1426.2 2448.7,1424.4 2451.3,1421.0 2453.9,1417.5 2456.5,1415.8 2458.2,1408.8 2460.8,1400.2 2463.4,1400.2 2466.0,1407.1 2468.6,1412.3 2470.4,1407.1 2472.1,1398.4 2474.7,1399.3 2477.3,1396.7 2479.0,1381.1 2480.8,1381.1 2482.5,1398.4 2484.3,1388.0 2486.9,1386.3 2488.6,1368.9 2490.3,1368.9 2492.1,1382.8 2493.8,1374.1 2495.5,1370.7 2496.4,1358.5 2498.1,1358.5 2499.9,1382.8 2501.1,1408.8 2502.8,1391.5 2505.1,1389.7 2507.3,1394.1 2508.0,1417.5 2509.1,1440.9 2510.8,1421.0 2512.9,1429.7 2514.6,1421.0 2516.0,1403.6 2517.7,1403.6 2518.4,1426.2 2519.5,1452.2 2520.7,1478.2 2521.9,1504.3 2523.3,1522.5 2525.0,1519.9 2526.8,1516.4 2527.6,1486.9 2528.5,1473.9 2531.1,1473.0 2533.4,1472.2 2534.1,1445.3 2536.3,1436.6 2537.5,1408.8 2539.8,1400.2 2541.5,1391.5 2543.3,1401.9 2545.0,1403.6 2546.2,1383.7 2548.5,1386.3 2551.1,1389.7 2553.7,1398.4 2554.5,1381.1 2557.1,1381.1 2559.7,1381.1 2560.6,1417.5 2562.9,1421.0 2564.1,1443.5 2565.3,1471.3 2567.5,1460.9 2570.2,1443.5 2572.2,1421.0 2574.0,1407.1 2577.1,1405.4 2579.7,1409.7 2580.9,1394.9 2582.3,1375.9 2584.9,1377.6 2587.5,1372.4 2590.1,1373.3 2591.0,1358.5 2592.7,1356.8 2595.3,1353.3 2597.0,1367.2 2598.8,1388.0 2601.4,1377.6 2604.0,1388.9 2605.7,1374.1 2606.9,1362.0 2609.2,1358.5 2610.9,1344.6 2612.7,1336.8 2615.3,1350.7 2617.0,1337.7 2618.7,1333.3 2620.5,1335.9 2622.2,1353.3 2626.6,1367.2 2630.9,1346.4 2633.5,1341.1 2635.2,1379.3 2637.8,1367.2 2640.4,1377.6 2642.2,1356.8 2643.4,1327.3 2644.8,1312.5 2647.4,1309.9 2650.0,1308.2 2651.7,1313.4 2653.4,1315.1 2655.2,1346.4 2657.8,1341.1 2659.5,1337.7 2661.3,1334.2 2663.0,1323.8 2664.7,1320.3 2667.3,1317.7 2668.7,1305.6 2670.8,1313.4 2672.5,1313.4 2673.4,1303.0 2676.9,1298.6 2678.6,1287.4 2680.3,1286.5 2681.6,1311.6 2683.8,1307.3 2685.6,1315.1 2687.3,1323.8 2688.5,1308.2 2689.9,1319.5 2692.5,1309.0 2695.1,1309.0 2696.5,1318.6 2697.7,1342.9 2698.6,1368.0 2700.3,1365.4 2701.7,1346.4 2702.9,1330.7 2704.6,1316.0 2706.4,1315.1 2708.1,1312.5 2709.8,1332.5 2711.6,1342.9 2713.3,1351.6 2715.1,1360.2 2716.3,1374.1 2717.3,1382.8 2719.0,1363.7 2720.3,1351.6 2722.0,1350.7 2723.7,1360.2 2725.5,1379.3 2726.7,1394.1 2728.9,1393.2 2731.5,1391.5 2734.1,1389.7 2735.9,1360.2 2737.1,1344.6" stroke="#21386e" stroke-width="6.0" stroke-linejoin="round" stroke-linecap="round"/>
<polyline points="1792.4,1640.0 1793.7,1677.3 1795.8,1675.6 1797.2,1647.8 1799.3,1654.8 1801.0,1642.6 1802.8,1657.4 1804.8,1646.1 1807.1,1640.9 1809.7,1636.6 1811.1,1663.4 1813.2,1673.9 1814.6,1647.8 1816.6,1623.5 1819.3,1607.9 1821.9,1606.2 1822.7,1592.3 1825.3,1591.4 1827.1,1597.5 1829.1,1587.1 1830.5,1569.7 1833.1,1568.0 1834.9,1572.3 1837.1,1571.5 1837.8,1542.0 1840.1,1544.6 1841.3,1559.3 1843.0,1544.6 1845.3,1543.7 1847.5,1552.4 1848.8,1517.7 1850.0,1513.3 1851.4,1540.2 1853.1,1536.8 1855.2,1535.0 1858.3,1536.8 1859.7,1554.1 1860.4,1580.2 1861.2,1606.2 1862.6,1632.2 1863.5,1644.4 1865.2,1616.6 1867.0,1639.2 1868.7,1673.9 1870.1,1628.7 1871.8,1649.6 1873.6,1622.7 1874.8,1632.2 1876.5,1675.6 1878.8,1672.1 1880.0,1653.0 1881.7,1633.9 1883.5,1632.2 1885.2,1634.8 1886.9,1649.6 1889.5,1660.0 1891.6,1666.9 1893.0,1689.5 1895.6,1696.4 1897.3,1687.7 1899.1,1668.7 1900.8,1665.2 1903.1,1670.4 1904.8,1649.6 1906.5,1630.5 1908.6,1623.5 1911.2,1625.3 1913.8,1630.5 1916.4,1640.9 1917.6,1654.8 1919.0,1676.5 1921.1,1663.4 1922.5,1644.4 1923.9,1666.9 1925.6,1646.1 1927.4,1626.1 1928.6,1661.7 1929.4,1684.3 1931.2,1679.1 1932.9,1661.7 1935.5,1646.1 1937.8,1640.0 1939.0,1658.2 1940.2,1676.5 1941.6,1661.7 1943.3,1653.0 1945.9,1646.1 1947.7,1633.9 1948.5,1613.1 1950.3,1608.8 1952.9,1597.5 1955.5,1594.0 1956.9,1580.2 1958.1,1574.1 1959.8,1581.9 1961.6,1578.4 1963.3,1579.3 1964.5,1601.0 1965.9,1614.9 1967.3,1625.3 1969.0,1616.6 1970.2,1602.7 1972.8,1601.0 1974.6,1579.3 1976.3,1588.8 1978.0,1594.0 1980.6,1587.1 1982.4,1571.5 1984.1,1587.1 1985.3,1598.4 1987.6,1585.4 1990.2,1594.0 1992.8,1597.5 1994.5,1578.4 1996.3,1588.8 1998.9,1599.2 2002.3,1600.1 2003.7,1568.0 2005.8,1574.9 2008.4,1569.7 2010.1,1561.1 2011.4,1519.4 2013.6,1515.9 2015.3,1522.9 2017.6,1531.6 2019.3,1554.1 2020.6,1587.1 2022.3,1583.6 2024.0,1574.9 2025.8,1573.2 2027.5,1583.6 2029.2,1592.3 2030.1,1568.0 2032.7,1568.0 2034.4,1561.1 2036.2,1555.9 2037.9,1564.5 2038.8,1530.7 2041.4,1543.7 2044.0,1543.7 2045.7,1533.3 2047.1,1509.0 2048.3,1487.3 2050.1,1507.3 2051.8,1519.4 2053.5,1526.4 2056.1,1530.7 2057.9,1517.7 2058.7,1493.4 2060.5,1490.8 2063.1,1487.3 2065.2,1465.6 2067.4,1472.6 2069.1,1462.1 2071.4,1451.7 2072.6,1458.7 2073.8,1489.0 2076.1,1476.0 2078.7,1479.5 2080.8,1485.6 2082.5,1502.1 2084.8,1509.0 2086.5,1488.2 2089.1,1487.3 2090.8,1474.3 2091.7,1462.1 2094.3,1469.1 2097.8,1464.8 2101.2,1472.6 2103.0,1460.4 2104.7,1453.5 2107.3,1456.9 2109.1,1450.0 2110.6,1441.2 2112.3,1436.0 2113.5,1422.1 2115.8,1416.9 2117.5,1406.5 2119.3,1389.1 2121.0,1390.0 2122.7,1396.1 2124.5,1382.2 2125.7,1364.8 2126.7,1342.3 2128.4,1343.1 2129.7,1364.8 2131.4,1345.7 2134.9,1344.9 2136.6,1385.7 2137.8,1397.8 2139.6,1382.2 2140.9,1387.4 2143.0,1375.2 2144.4,1364.8 2145.8,1337.1 2146.5,1302.4 2147.9,1300.6 2149.3,1319.7 2151.0,1326.6 2152.2,1330.1 2154.0,1339.7 2155.2,1311.0 2156.6,1312.8 2158.0,1337.1 2160.0,1335.3 2161.8,1319.7 2163.5,1318.0 2164.9,1337.1 2166.1,1359.6 2167.3,1382.2 2168.7,1396.1 2170.1,1378.7 2172.2,1382.2 2173.6,1411.7 2175.3,1382.2 2177.4,1396.1 2178.8,1384.8 2180.9,1385.7 2181.7,1427.3 2183.5,1404.7 2185.2,1427.3 2187.8,1430.8 2190.4,1436.0 2193.0,1436.0 2193.9,1417.8 2195.1,1420.4 2196.5,1432.5 2198.6,1444.7 2200.3,1455.1 2202.5,1451.6 2203.4,1468.9 2205.2,1479.4 2207.2,1468.9 2208.6,1489.8 2210.0,1503.7 2212.1,1493.2 2213.8,1476.8 2216.4,1475.9 2218.2,1481.1 2219.4,1510.6 2220.8,1534.9 2221.2,1538.6 2222.5,1553.0 2223.8,1545.2 2225.8,1543.9 2227.1,1553.0 2227.7,1566.0 2229.0,1563.4 2230.4,1554.3 2233.0,1553.6 2234.9,1555.6 2235.8,1568.6 2236.9,1582.3 2238.2,1579.0 2239.5,1566.0 2240.8,1563.4 2243.4,1564.1 2244.4,1558.2 2245.3,1546.5 2246.6,1542.6 2247.9,1519.1 2249.2,1519.1 2250.6,1523.0 2251.9,1532.1 2253.2,1525.6 2254.5,1520.4 2255.8,1521.7 2257.1,1542.6 2259.0,1544.5 2261.6,1543.9 2262.9,1532.1 2264.2,1525.6 2265.5,1512.6 2266.8,1497.6 2268.1,1498.2 2270.1,1510.0 2272.1,1508.7 2273.4,1493.0 2274.4,1489.8 2275.3,1496.9 2276.6,1496.3 2278.6,1503.5 2280.5,1512.6 2281.8,1525.6 2282.7,1551.7 2283.5,1566.0 2284.4,1551.7 2285.3,1529.5 2286.4,1513.9 2288.3,1493.0 2289.7,1511.3 2291.0,1510.6 2292.3,1504.8 2293.6,1491.7 2294.9,1490.4 2297.5,1491.7 2299.4,1490.4 2298.9,1456.8 2300.6,1458.5 2302.3,1465.5 2304.9,1468.9 2307.5,1463.7 2309.6,1455.9 2311.9,1468.9 2314.1,1471.6 2315.9,1459.4 2317.6,1460.3 2319.3,1472.4 2320.6,1488.0 2322.8,1486.3 2324.9,1481.1 2326.3,1498.4 2328.0,1508.9 2329.8,1511.5 2331.8,1509.7 2333.6,1507.1 2335.3,1489.8 2337.0,1462.0 2339.6,1456.8 2343.1,1453.3 2344.8,1462.0 2346.6,1468.9 2347.8,1481.1 2350.1,1475.0 2351.8,1472.4 2354.0,1487.2 2356.1,1482.8 2357.9,1470.7 2359.9,1456.8 2361.7,1448.1 2363.9,1459.4 2365.7,1457.7 2366.5,1439.4 2369.1,1434.2 2370.9,1430.8 2371.7,1401.3 2373.5,1396.1 2376.1,1409.9 2377.8,1396.1 2379.6,1378.7 2380.4,1375.2 2382.2,1395.2 2383.9,1385.7 2386.5,1389.1 2389.1,1390.9 2390.8,1370.0 2391.7,1365.7 2393.4,1383.9 2395.2,1387.4 2397.4,1371.8 2399.2,1370.9 2400.9,1389.1 2402.1,1413.4 2403.9,1416.9 2405.6,1418.6 2407.3,1425.6 2409.9,1423.8 2411.7,1414.3 2414.3,1415.2 2416.5,1418.6 2417.7,1449.9 2419.5,1441.2 2421.2,1434.2 2423.8,1430.8 2425.5,1436.0 2427.3,1419.5 2429.0,1423.0 2431.6,1422.1 2433.4,1422.1 2435.1,1387.4 2436.3,1386.5 2437.7,1403.0 2439.4,1422.1 2440.0,1422.7 2441.7,1443.5 2444.3,1465.2 2446.1,1464.4 2447.8,1434.9 2449.5,1426.2 2451.8,1422.7 2453.0,1443.5 2454.2,1466.1 2455.6,1482.6 2457.4,1478.2 2458.7,1466.1 2460.5,1467.8 2461.7,1480.8 2463.4,1480.0 2464.6,1471.3 2466.9,1473.0 2468.6,1475.6 2470.9,1477.4 2471.6,1457.4 2473.3,1462.6 2474.4,1443.5 2475.6,1433.1 2477.3,1419.2 2479.0,1420.1 2480.8,1433.1 2481.6,1450.5 2483.0,1451.3 2484.3,1466.1 2486.5,1467.0 2488.6,1461.8 2490.3,1464.4 2491.2,1485.2 2492.9,1490.4 2495.2,1478.2 2497.3,1493.9 2499.0,1496.5 2500.7,1486.9 2502.1,1476.5 2505.1,1473.0 2506.8,1466.1 2508.0,1463.5 2509.4,1472.2 2510.8,1485.2 2512.9,1488.7 2515.0,1493.0 2516.4,1503.3 2517.7,1527.6 2519.0,1555.4 2519.8,1577.9 2522.4,1583.1 2524.2,1584.9 2525.4,1564.0 2526.4,1534.5 2527.6,1532.8 2528.9,1546.7 2530.2,1549.3 2532.0,1553.6 2533.7,1571.0 2535.1,1572.7 2536.3,1551.9 2537.5,1553.6 2539.8,1558.8 2542.4,1579.7 2543.8,1581.4 2545.0,1564.9 2546.2,1564.0 2547.9,1575.3 2551.1,1572.7 2553.7,1568.4 2554.9,1550.2 2557.1,1549.3 2560.1,1550.2 2561.5,1558.8 2562.9,1571.0 2564.6,1584.9 2566.3,1593.5 2569.3,1600.5 2569.8,1614.4 2571.9,1616.1 2573.6,1607.4 2575.7,1617.8 2578.0,1621.3 2579.7,1616.1 2580.9,1600.5 2582.3,1595.3 2584.9,1591.8 2587.2,1593.5 2588.4,1581.4 2590.6,1578.8 2592.7,1590.1 2594.8,1580.5 2596.2,1591.8 2597.6,1593.5 2598.8,1586.6 2599.7,1571.0 2601.0,1548.4 2601.7,1536.3 2604.0,1529.3 2606.6,1527.6 2607.5,1516.3 2609.7,1511.1 2611.8,1511.1 2613.5,1518.9 2616.1,1529.3 2617.9,1511.1 2620.5,1509.4 2622.2,1487.7 2626.6,1474.8 2630.9,1467.8 2633.5,1466.1 2635.2,1450.5 2637.0,1443.5 2639.2,1450.5 2641.3,1464.4 2642.2,1440.1 2643.4,1427.9 2644.8,1429.7 2646.5,1457.4 2648.2,1461.8 2650.3,1460.9 2651.4,1429.7 2653.1,1427.0 2655.2,1427.0 2657.8,1431.4 2660.0,1440.9 2662.1,1432.3 2664.2,1434.0 2665.6,1445.3 2667.3,1457.4 2669.9,1462.6 2671.7,1473.0 2673.4,1475.6 2675.1,1485.2 2677.7,1476.5 2679.5,1477.4 2680.9,1490.4 2682.1,1497.3 2683.8,1493.9 2686.1,1486.9 2687.8,1474.8 2689.5,1460.9 2690.8,1438.3 2693.4,1436.6 2696.5,1439.2 2697.7,1417.5 2698.6,1399.3 2701.2,1407.1 2703.8,1393.2 2707.2,1394.9 2709.0,1385.4 2710.7,1394.9 2713.3,1404.5 2715.9,1398.4 2717.7,1398.4 2719.4,1390.6 2722.0,1388.0 2723.7,1372.4 2726.3,1369.8 2728.1,1351.6 2730.7,1347.2 2733.3,1346.4 2734.1,1367.2 2735.0,1381.1 2737.1,1388.9" stroke="#3b62c9" stroke-width="6.0" stroke-linejoin="round" stroke-linecap="round"/>
<rect x="2626.2" y="1245.1" width="155.7" height="331.4" rx="25" ry="25" stroke="#e68ba1" stroke-width="8"/>
</svg>
<div class="r" style="left:171.5px;top:126px;width:2906.5px;height:9.5px;background:#0546dd;"></div>
<span class="t" style="left:172.38px;top:182.07px;font-size:93.23px;font-weight:500;color:#0546dd;transform:scaleX(0.9626);">미국 주식시장 전망</span>
<span class="t" style="left:1600.45px;top:209.56px;font-size:63.76px;font-weight:500;color:#000;transform:scaleX(1.0200);">[통화정책] 금리 변동성 확대로 증시 밸류 확장은 제한적</span>
<span class="t" style="left:170.42px;top:368.40px;font-size:59.78px;font-weight:500;color:#000;transform:scaleX(0.9524);">경기 및 정책 불확실성에 따른 금리 변동성 확대 국면에서는 증시 밸류에이션 확장이 제한적이라고 판단</span>
<span class="t" style="left:238.16px;top:477.65px;font-size:55.40px;font-weight:400;color:#000;transform:scaleX(0.9533);">고용 서프라이즈로 연준의 금리 인하 속도조절론 강화. 1월 동결 확실시, 3월 인하 확률도 22%에 그쳐</span>
<div class="r" style="left:208.1px;top:492.6px;width:14px;height:14px;border-radius:50%;background:#000"></div>
<span class="t" style="left:238.15px;top:579.65px;font-size:55.40px;font-weight:400;color:#000;transform:scaleX(0.9581);">현재 선도시장내 반영된 3개월내 및 6개월내 기준금리 인하 횟수는 각각 0회, 0.8회 : 당사 리서치센터는 연간 2회 인하 전망</span>
<div class="r" style="left:208.1px;top:595.6px;width:14px;height:14px;border-radius:50%;background:#000"></div>
<span class="t" style="left:236.02px;top:683.25px;font-size:55.40px;font-weight:400;color:#000;transform:scaleX(0.9579);">미국 경기 및 정책 불확실성이 지속될 것이라는 점에서 통화정책의 가변성에 따른 금리 변동성 확대 예상</span>
<div class="r" style="left:208.1px;top:698.2px;width:14px;height:14px;border-radius:50%;background:#000"></div>
<span class="t" style="left:238.15px;top:786.05px;font-size:55.40px;font-weight:400;color:#000;transform:scaleX(0.9583);">금리 변동성 확대 국면에서는 증시 밸류에이션 확장은 제한적이라고 판단: 향후 증시는 이익 방향성에 의해 정해질 전망</span>
<div class="r" style="left:208.1px;top:801.0px;width:14px;height:14px;border-radius:50%;background:#000"></div>
<div class="r" style="left:240.8px;top:831.6px;width:2575.2px;height:3.199999999999932px;background:#000;"></div>
<div class="r" style="left:175.5px;top:897px;width:1381.5px;height:118px;background:#21386e;"></div>
<div class="r" style="left:1693.5px;top:897px;width:1383.0px;height:118px;background:#21386e;"></div>
<span class="t" style="left:220.72px;top:921.27px;font-size:59.89px;font-weight:400;color:#fff;transform:scaleX(0.9523);">선도시장내 반영된 3개월 및 6개월 내 기준금리 인하 폭</span>
<span class="t" style="left:1762.14px;top:920.61px;font-size:59.24px;font-weight:400;color:#fff;transform:scaleX(0.9644);">금리 변동성 확대 국면, 증시 밸류에이션 확장은 제한적</span>
<div class="r" style="left:1732.5px;top:940px;width:14px;height:14px;border-radius:50%;background:#000"></div>
<span class="t" style="left:170.95px;top:1980.77px;font-size:35.11px;font-weight:400;color:#000;transform:scaleX(0.9332);">자료: Bloomberg, 삼성자산운용 투자리서치센터</span>
<span class="t" style="left:1693.74px;top:1980.77px;font-size:35.11px;font-weight:400;color:#000;transform:scaleX(0.9413);">자료: Refinitiv, 삼성자산운용 투자리서치센터</span>
<div class="r" style="left:171.5px;top:2050.5px;width:2906.5px;height:9.0px;background:#0546dd;"></div>
<span class="t" style="left:172.36px;top:2105.32px;font-size:40.56px;font-weight:400;color:#000;transform:scaleX(0.8773);">16</span>
<span class="t" style="left:2803.91px;top:2104.44px;font-size:55.85px;font-weight:700;color:#0546dd;transform:scaleX(0.8861);">삼성자산운용</span>
<span class="t" style="left:194.63px;top:1085.67px;font-size:38.72px;font-weight:400;color:#000;transform:scaleX(1.0100);-webkit-text-stroke:0.8px #fff;">(bp)</span>
<span class="t" style="left:1462.92px;top:1085.45px;font-size:38.09px;font-weight:400;color:#000;transform:scaleX(0.9838);-webkit-text-stroke:0.45px #fff;">(%)</span>
<span class="t" style="left:630.36px;top:1076.25px;font-size:37.36px;font-weight:400;color:#000;transform:scaleX(0.9842);-webkit-text-stroke:0.8px #fff;">선도시장에 내재된 기준금리 변화 폭(3M, 좌)</span>
<span class="t" style="left:630.35px;top:1143.25px;font-size:37.36px;font-weight:400;color:#000;transform:scaleX(0.9863);-webkit-text-stroke:0.8px #fff;">선도시장에 내재된 기준금리 변화 폭(6M, 좌)</span>
<span class="t" style="left:629.83px;top:1209.25px;font-size:37.36px;font-weight:400;color:#000;transform:scaleX(0.9966);-webkit-text-stroke:0.8px #fff;">미국 기준금리(우)</span>
<span class="t" style="left:194.93px;top:1164.98px;font-size:42.25px;font-weight:400;color:#000;transform:scaleX(0.8304);-webkit-text-stroke:0.8px #fff;">120</span>
<span class="t" style="left:211.37px;top:1263.82px;font-size:42.25px;font-weight:400;color:#000;transform:scaleX(0.9223);-webkit-text-stroke:0.8px #fff;">70</span>
<span class="t" style="left:210.92px;top:1362.34px;font-size:42.25px;font-weight:400;color:#000;transform:scaleX(0.9201);-webkit-text-stroke:0.8px #fff;">20</span>
<span class="t" style="left:194.33px;top:1459.98px;font-size:42.25px;font-weight:400;color:#000;transform:scaleX(0.9814);-webkit-text-stroke:0.8px #fff;">-30</span>
<span class="t" style="left:194.33px;top:1558.82px;font-size:42.25px;font-weight:400;color:#000;transform:scaleX(0.9814);-webkit-text-stroke:0.8px #fff;">-80</span>
<span class="t" style="left:182.01px;top:1658.18px;font-size:42.25px;font-weight:400;color:#000;transform:scaleX(0.8476);-webkit-text-stroke:0.8px #fff;">-130</span>
<span class="t" style="left:182.01px;top:1756.02px;font-size:42.25px;font-weight:400;color:#000;transform:scaleX(0.8476);-webkit-text-stroke:0.8px #fff;">-180</span>
<span class="t" style="left:178.12px;top:1853.94px;font-size:42.25px;font-weight:400;color:#000;transform:scaleX(0.9046);-webkit-text-stroke:0.8px #fff;">-230</span>
<span class="t" style="left:1505.81px;top:1165.38px;font-size:42.25px;font-weight:400;color:#000;transform:scaleX(0.8961);-webkit-text-stroke:0.8px #fff;">5.6</span>
<span class="t" style="left:1505.81px;top:1251.62px;font-size:42.25px;font-weight:400;color:#000;transform:scaleX(0.8961);-webkit-text-stroke:0.8px #fff;">5.4</span>
<span class="t" style="left:1505.81px;top:1337.86px;font-size:42.25px;font-weight:400;color:#000;transform:scaleX(0.8961);-webkit-text-stroke:0.8px #fff;">5.2</span>
<span class="t" style="left:1505.81px;top:1424.10px;font-size:42.25px;font-weight:400;color:#000;transform:scaleX(0.8961);-webkit-text-stroke:0.8px #fff;">5.0</span>
<span class="t" style="left:1507.08px;top:1510.34px;font-size:42.25px;font-weight:400;color:#000;transform:scaleX(0.9204);-webkit-text-stroke:0.8px #fff;">4.8</span>
<span class="t" style="left:1507.08px;top:1597.58px;font-size:42.25px;font-weight:400;color:#000;transform:scaleX(0.9203);-webkit-text-stroke:0.8px #fff;">4.6</span>
<span class="t" style="left:1507.08px;top:1683.66px;font-size:42.25px;font-weight:400;color:#000;transform:scaleX(0.9182);-webkit-text-stroke:0.8px #fff;">4.4</span>
<span class="t" style="left:1507.09px;top:1769.90px;font-size:42.25px;font-weight:400;color:#000;transform:scaleX(0.9153);-webkit-text-stroke:0.8px #fff;">4.2</span>
<span class="t" style="left:1507.09px;top:1856.30px;font-size:42.25px;font-weight:400;color:#000;transform:scaleX(0.9156);-webkit-text-stroke:0.8px #fff;">4.0</span>
<span class="t" style="left:259.99px;top:1895.76px;font-size:42.25px;font-weight:400;color:#000;transform:scaleX(0.7755);-webkit-text-stroke:0.8px #fff;">23.1</span>
<span class="t" style="left:385.90px;top:1895.78px;font-size:42.25px;font-weight:400;color:#000;transform:scaleX(0.8951);-webkit-text-stroke:0.8px #fff;">23.4</span>
<span class="t" style="left:518.67px;top:1895.78px;font-size:42.25px;font-weight:400;color:#000;transform:scaleX(0.8734);-webkit-text-stroke:0.8px #fff;">23.7</span>
<span class="t" style="left:642.73px;top:1895.78px;font-size:42.25px;font-weight:400;color:#000;transform:scaleX(0.8246);-webkit-text-stroke:0.8px #fff;">23.10</span>
<span class="t" style="left:786.99px;top:1895.62px;font-size:42.25px;font-weight:400;color:#000;transform:scaleX(0.7755);-webkit-text-stroke:0.8px #fff;">24.1</span>
<span class="t" style="left:912.69px;top:1895.62px;font-size:42.25px;font-weight:400;color:#000;transform:scaleX(0.8951);-webkit-text-stroke:0.8px #fff;">24.4</span>
<span class="t" style="left:1045.07px;top:1895.62px;font-size:42.25px;font-weight:400;color:#000;transform:scaleX(0.8734);-webkit-text-stroke:0.8px #fff;">24.7</span>
<span class="t" style="left:1169.33px;top:1895.78px;font-size:42.25px;font-weight:400;color:#000;transform:scaleX(0.8246);-webkit-text-stroke:0.8px #fff;">24.10</span>
<span class="t" style="left:1313.58px;top:1895.78px;font-size:42.25px;font-weight:400;color:#000;transform:scaleX(0.7755);-webkit-text-stroke:0.8px #fff;">25.1</span>
<span class="t" style="left:1386.64px;top:1340.48px;font-size:42.25px;font-weight:400;color:#000;transform:scaleX(0.9198);-webkit-text-stroke:0.8px #fff;">-8.36</span>
<span class="t" style="left:1378.29px;top:1519.82px;font-size:42.25px;font-weight:400;color:#000;transform:scaleX(0.7933);-webkit-text-stroke:0.8px #fff;">-21.41</span>
<span class="t" style="left:1714.82px;top:1091.49px;font-size:35.60px;font-weight:400;color:#000;transform:scaleX(1.1069);-webkit-text-stroke:0.8px #fff;">(배)</span>
<span class="t" style="left:2963.66px;top:1086.53px;font-size:37.77px;font-weight:400;color:#000;transform:scaleX(1.0208);-webkit-text-stroke:0.45px #fff;">(%)</span>
<span class="t" style="left:2069.01px;top:1094.98px;font-size:42.25px;font-weight:400;color:#000;transform:scaleX(0.7970);-webkit-text-stroke:0.8px #fff;">S&amp;P 500 12MF PE</span>
<span class="t" style="left:2500.00px;top:1100.28px;font-size:36.04px;font-weight:400;color:#000;transform:scaleX(1.0147);-webkit-text-stroke:0.8px #fff;">미국 10년 국채 금리</span>
<span class="t" style="left:1698.92px;top:1157.82px;font-size:42.25px;font-weight:400;color:#000;transform:scaleX(0.9162);-webkit-text-stroke:0.8px #fff;">24</span>
<span class="t" style="left:1698.90px;top:1235.18px;font-size:42.25px;font-weight:400;color:#000;transform:scaleX(0.9242);-webkit-text-stroke:0.8px #fff;">23</span>
<span class="t" style="left:1698.76px;top:1313.55px;font-size:42.25px;font-weight:400;color:#000;transform:scaleX(0.9358);-webkit-text-stroke:0.8px #fff;">22</span>
<span class="t" style="left:1701.99px;top:1392.38px;font-size:42.25px;font-weight:400;color:#000;transform:scaleX(0.8553);-webkit-text-stroke:0.8px #fff;">21</span>
<span class="t" style="left:1698.91px;top:1469.74px;font-size:42.25px;font-weight:400;color:#000;transform:scaleX(0.9201);-webkit-text-stroke:0.8px #fff;">20</span>
<span class="t" style="left:1702.19px;top:1548.58px;font-size:42.25px;font-weight:400;color:#000;transform:scaleX(0.8688);-webkit-text-stroke:0.8px #fff;">19</span>
<span class="t" style="left:1702.26px;top:1627.10px;font-size:42.25px;font-weight:400;color:#000;transform:scaleX(0.8627);-webkit-text-stroke:0.8px #fff;">18</span>
<span class="t" style="left:1702.18px;top:1705.46px;font-size:42.25px;font-weight:400;color:#000;transform:scaleX(0.8711);-webkit-text-stroke:0.8px #fff;">17</span>
<span class="t" style="left:1702.26px;top:1783.14px;font-size:42.25px;font-weight:400;color:#000;transform:scaleX(0.8625);-webkit-text-stroke:0.8px #fff;">16</span>
<span class="t" style="left:1702.31px;top:1861.08px;font-size:42.25px;font-weight:400;color:#000;transform:scaleX(0.8609);-webkit-text-stroke:0.8px #fff;">15</span>
<span class="t" style="left:2977.10px;top:1158.40px;font-size:42.25px;font-weight:400;color:#000;transform:scaleX(0.8672);-webkit-text-stroke:0.8px #fff;">5.5</span>
<span class="t" style="left:2977.10px;top:1274.78px;font-size:42.25px;font-weight:400;color:#000;transform:scaleX(0.8672);-webkit-text-stroke:0.8px #fff;">5.0</span>
<span class="t" style="left:2978.13px;top:1392.58px;font-size:42.25px;font-weight:400;color:#000;transform:scaleX(0.8933);-webkit-text-stroke:0.8px #fff;">4.5</span>
<span class="t" style="left:2978.18px;top:1509.38px;font-size:42.25px;font-weight:400;color:#000;transform:scaleX(0.8831);-webkit-text-stroke:0.8px #fff;">4.0</span>
<span class="t" style="left:2977.51px;top:1627.18px;font-size:42.25px;font-weight:400;color:#000;transform:scaleX(0.8672);-webkit-text-stroke:0.8px #fff;">3.5</span>
<span class="t" style="left:2977.51px;top:1743.66px;font-size:42.25px;font-weight:400;color:#000;transform:scaleX(0.8672);-webkit-text-stroke:0.8px #fff;">3.0</span>
<span class="t" style="left:2977.74px;top:1860.78px;font-size:42.25px;font-weight:400;color:#000;transform:scaleX(0.8931);-webkit-text-stroke:0.8px #fff;">2.5</span>
<span class="t" style="left:1739.19px;top:1901.36px;font-size:42.25px;font-weight:400;color:#000;transform:scaleX(0.7755);-webkit-text-stroke:0.8px #fff;">23.1</span>
<span class="t" style="left:1850.29px;top:1901.38px;font-size:42.25px;font-weight:400;color:#000;transform:scaleX(0.8951);-webkit-text-stroke:0.8px #fff;">23.4</span>
<span class="t" style="left:1969.07px;top:1901.38px;font-size:42.25px;font-weight:400;color:#000;transform:scaleX(0.8734);-webkit-text-stroke:0.8px #fff;">23.7</span>
<span class="t" style="left:2079.33px;top:1901.38px;font-size:42.25px;font-weight:400;color:#000;transform:scaleX(0.8246);-webkit-text-stroke:0.8px #fff;">23.10</span>
<span class="t" style="left:2210.79px;top:1901.22px;font-size:42.25px;font-weight:400;color:#000;transform:scaleX(0.7755);-webkit-text-stroke:0.8px #fff;">24.1</span>
<span class="t" style="left:2322.09px;top:1901.22px;font-size:42.25px;font-weight:400;color:#000;transform:scaleX(0.8951);-webkit-text-stroke:0.8px #fff;">24.4</span>
<span class="t" style="left:2440.46px;top:1901.22px;font-size:42.25px;font-weight:400;color:#000;transform:scaleX(0.8734);-webkit-text-stroke:0.8px #fff;">24.7</span>
<span class="t" style="left:2551.73px;top:1901.38px;font-size:42.25px;font-weight:400;color:#000;transform:scaleX(0.8246);-webkit-text-stroke:0.8px #fff;">24.10</span>
<span class="t" style="left:2682.19px;top:1901.38px;font-size:42.25px;font-weight:400;color:#000;transform:scaleX(0.7755);-webkit-text-stroke:0.8px #fff;">25.1</span>
<span class="t" style="left:2793.29px;top:1901.38px;font-size:42.25px;font-weight:400;color:#000;transform:scaleX(0.8951);-webkit-text-stroke:0.8px #fff;">25.4</span>
</body></html>
